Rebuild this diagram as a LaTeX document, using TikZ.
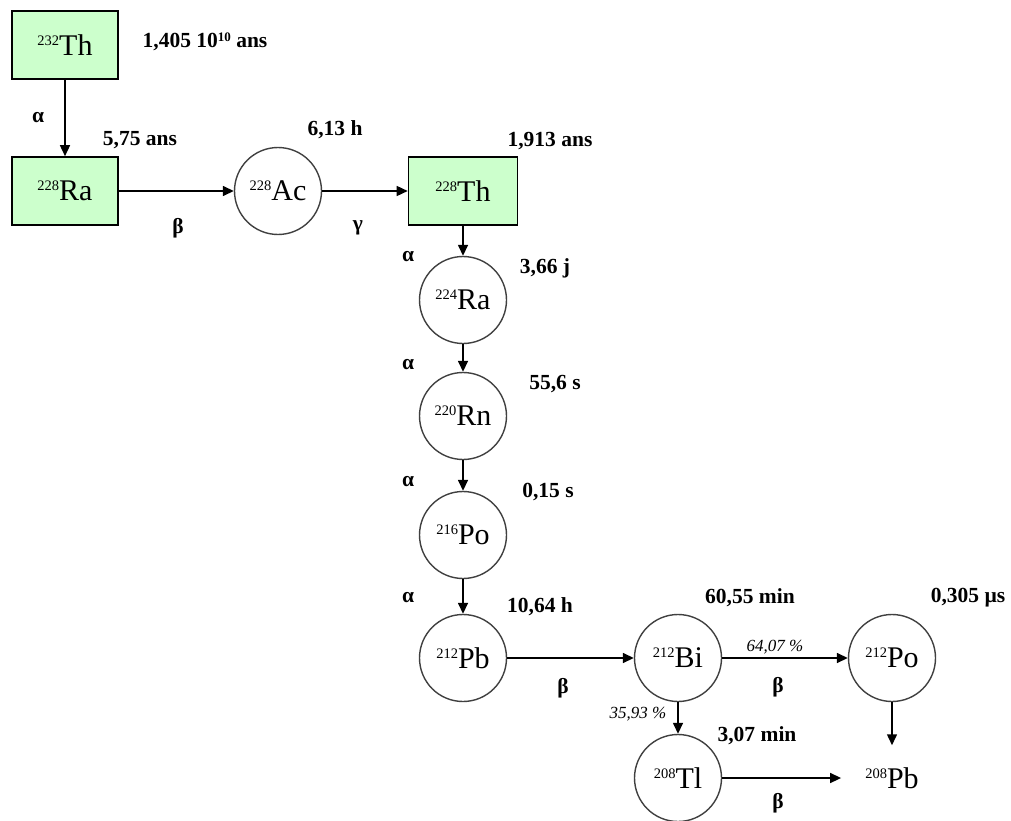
\documentclass[tikz,border=0pt]{standalone}
\usepackage{fontspec}
\setmainfont{Liberation Serif}
\usetikzlibrary{arrows.meta}
\definecolor{boxgreen}{HTML}{CCFFCC}
\newcommand\nucl[2]{\raisebox{10pt}{\fontsize{14.5}{14.5}\selectfont #1}#2}
\tikzset{
  boxnode/.style={draw=black, line width=1.6pt, fill=boxgreen, minimum width=106pt, minimum height=68pt, inner sep=0pt, font=\fontsize{30}{30}\selectfont},
  circnode/.style={circle, draw=black!75, line width=1.4pt, minimum size=87pt, inner sep=0pt, font=\fontsize{30}{30}\selectfont},
  endnode/.style={inner sep=0pt, font=\fontsize{30}{30}\selectfont},
  conn/.style={-{Triangle[length=11pt,width=10pt]}, line width=1.5pt},
  lab/.style={font=\fontsize{21.5}{21.5}\selectfont\bfseries, inner sep=0pt},
  pct/.style={font=\fontsize{17}{17}\selectfont\itshape, inner sep=0pt},
}
\begin{document}
\begin{tikzpicture}[x=1pt,y=-1pt]
\useasboundingbox (0,0) rectangle (1011,821);
% nodes
\node[boxnode] (th232) at (65,45) {\nucl{232}{Th}};
\node[boxnode] (ra228) at (65,191) {\nucl{228}{Ra}};
\node[circnode] (ac228) at (278,191) {\nucl{228}{Ac}};
\node[boxnode, minimum width=109pt] (th228) at (463,191) {\nucl{228}{Th}};
\node[circnode] (ra224) at (463,300) {\nucl{224}{Ra}};
\node[circnode] (rn220) at (463,416) {\nucl{220}{Rn}};
\node[circnode] (po216) at (463,535) {\nucl{216}{Po}};
\node[circnode] (pb212) at (463,658) {\nucl{212}{Pb}};
\node[circnode] (bi212) at (678,658) {\nucl{212}{Bi}};
\node[circnode] (po212) at (892,658) {\nucl{212}{Po}};
\node[circnode] (tl208) at (678,778) {\nucl{208}{Tl}};
\node[endnode] (pb208) at (892,778) {\nucl{208}{Pb}};
% connectors
\draw[conn] (th232.south) -- (ra228.north);
\draw[conn] (ra228.east) -- (ac228.west);
\draw[conn] (ac228.east) -- (th228.west);
\draw[conn] (th228.south) -- (ra224.north);
\draw[conn] (ra224.south) -- (rn220.north);
\draw[conn] (rn220.south) -- (po216.north);
\draw[conn] (po216.south) -- (pb212.north);
\draw[conn] (pb212.east) -- (bi212.west);
\draw[conn] (bi212.east) -- (po212.west);
\draw[conn] (bi212.south) -- (tl208.north);
\draw[conn, shorten >=22pt] (po212.south) -- (pb208.north);
\draw[conn, shorten >=24pt] (tl208.east) -- (pb208.west);
% labels
\node[lab] (l1) at (205,42) {1,405 10\raisebox{6pt}{\fontsize{13}{13}\selectfont 10} ans};
\node[lab] (l2) at (38,118) {α};
\node[lab] (l3) at (140,140) {5,75 ans};
\node[lab] (l4) at (178,228) {β};
\node[lab] (l5) at (335,130) {6,13 h};
\node[lab] (l6) at (358,228) {γ};
\node[lab] (l7) at (550,141) {1,913 ans};
\node[lab] (l8) at (408,257) {α};
\node[lab] (l9) at (545,268) {3,66 j};
\node[lab] (l10) at (408,365) {α};
\node[lab] (l11) at (555,384) {55,6 s};
\node[lab] (l12) at (408,482) {α};
\node[lab] (l13) at (548,492) {0,15 s};
\node[lab] (l14) at (408,598) {α};
\node[lab] (l15) at (540,607) {10,64 h};
\node[lab] (l16) at (750,598) {60,55 min};
\node[lab] (l17) at (968,598) {0,305 µs};
\node[pct] (l18) at (775,647) {64,07 \%};
\node[lab] (l19) at (563,688) {β};
\node[lab] (l20) at (778,687) {β};
\node[pct] (l21) at (638,714) {35,93 \%};
\node[lab] (l22) at (757,736) {3,07 min};
\node[lab] (l23) at (778,803) {β};
\end{tikzpicture}
\end{document}
